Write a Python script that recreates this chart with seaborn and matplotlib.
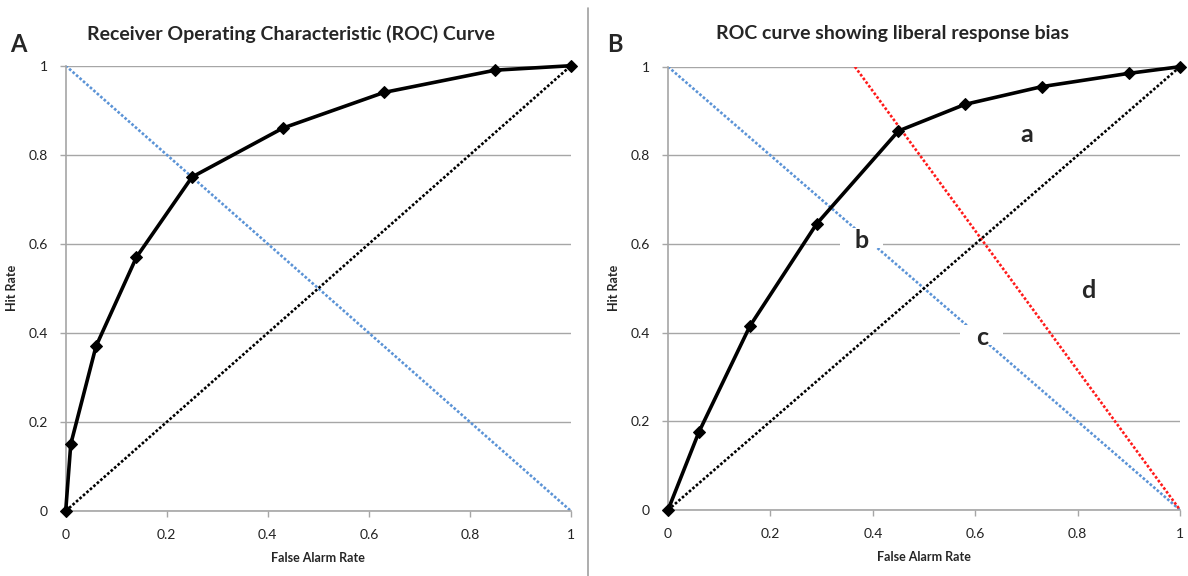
import numpy as np
import pandas as pd
import seaborn as sns
import matplotlib.pyplot as plt
from matplotlib.lines import Line2D
from matplotlib.patches import Rectangle

# datos
roc_a_far = [0, 0.01, 0.06, 0.14, 0.25, 0.43, 0.63, 0.85, 1]
roc_a_hit = [0, 0.15, 0.37, 0.57, 0.75, 0.86, 0.94, 0.99, 1]

roc_b_far = [0, 0.06, 0.16, 0.29, 0.45, 0.58, 0.73, 0.90, 1]
roc_b_hit = [0, 0.175, 0.415, 0.645, 0.855, 0.915, 0.955, 0.985, 1]

chance_x = [0, 1]
chance_y = [0, 1]
neutral_x = [0, 1]
neutral_y = [1, 0]
liberal_x = [0.365, 1]
liberal_y = [1, 0]

tick_vals = [0, 0.2, 0.4, 0.6, 0.8, 1]
tick_labels = ["0", "0.2", "0.4", "0.6", "0.8", "1"]

region_labels = ["a", "b", "c", "d"]
region_x = [0.70, 0.378, 0.613, 0.82]
region_y = [0.846, 0.609, 0.390, 0.496]
region_boxed = [False, True, True, False]

titles = ["Receiver Operating Characteristic (ROC) Curve",
          "ROC curve showing liberal response bias"]
panel_letters = ["A", "B"]

sns.set_theme(style="white")
plt.rcParams['font.family'] = ['Lato', 'DejaVu Sans']

GRID = "#A6A6A6"
BLUE = "#5B93D6"
RED = "#FF1A1A"
DOT = (0, (1, 0.75))

fig = plt.figure(figsize=(11.88, 5.76), dpi=100)
ax_a = fig.add_axes([0.0553, 0.1128, 0.4253, 0.7731])
ax_b = fig.add_axes([0.5623, 0.1146, 0.4310, 0.7696])


def style_axes(ax, ylab_x):
    ax.set_xlim(0, 1)
    ax.set_ylim(0, 1)
    ax.set_xticks(tick_vals)
    ax.set_xticklabels(tick_labels)
    ax.set_yticks(tick_vals)
    ax.set_yticklabels(tick_labels)
    ax.yaxis.grid(True, color=GRID, lw=1)
    ax.xaxis.grid(False)
    for s in ["top", "right"]:
        ax.spines[s].set_visible(False)
    for s in ["left", "bottom"]:
        ax.spines[s].set_color(GRID)
        ax.spines[s].set_linewidth(1.2)
    ax.tick_params(axis="both", which="major", direction="out", length=4,
                   width=1, color=GRID, labelsize=10, labelcolor="#222222",
                   bottom=True, left=True)
    ax.tick_params(axis="x", pad=9)
    ax.tick_params(axis="y", pad=9)
    ax.set_xlabel("False Alarm Rate", fontsize=9, fontweight="bold", labelpad=8)
    ax.set_ylabel("Hit Rate", fontsize=9, fontweight="bold")
    ax.yaxis.set_label_coords(ylab_x, 0.5)


def draw_ref(ax, xs, ys, color):
    sns.lineplot(x=xs, y=ys, ax=ax, color=color, lw=1.9, linestyle=DOT,
                 errorbar=None, sort=False, legend=False, zorder=2)


def draw_roc(ax, xs, ys):
    sns.lineplot(x=xs, y=ys, ax=ax, color="black", lw=2.6, marker="D",
                 markersize=6.5, markeredgecolor="black", errorbar=None,
                 sort=False, legend=False, zorder=4, clip_on=False)


# Panel A
draw_ref(ax_a, neutral_x, neutral_y, BLUE)
draw_ref(ax_a, chance_x, chance_y, "black")
draw_roc(ax_a, roc_a_far, roc_a_hit)
style_axes(ax_a, (18 - 66) / 505)

# Panel B
draw_ref(ax_b, neutral_x, neutral_y, BLUE)
draw_ref(ax_b, liberal_x, liberal_y, RED)
draw_ref(ax_b, chance_x, chance_y, "black")
draw_roc(ax_b, roc_b_far, roc_b_hit)
style_axes(ax_b, (620 - 668) / 512)

# fondo blanco de las etiquetas b y c: ancho ~43 px, alto ~20 px
box_w = 43 / 512
box_h = 20 / 443
for lab, x, y, boxed in zip(region_labels, region_x, region_y, region_boxed):
    if boxed:
        ax_b.add_patch(Rectangle((x - box_w / 2, y - box_h / 2 + 0.004),
                                 box_w, box_h, fc="white", ec="none",
                                 zorder=5))
    ax_b.text(x, y, lab, fontsize=18, fontweight="bold", ha="center",
              va="center", zorder=6)

# titulos y letras de panel
fig.text(291 / 1188, 1 - 34 / 576, titles[0], fontsize=14, fontweight="bold",
         ha="center", va="center")
fig.text(893 / 1188, 1 - 34 / 576, titles[1], fontsize=14, fontweight="bold",
         ha="center", va="center")
fig.text(18 / 1188, 1 - 45 / 576, panel_letters[0], fontsize=17,
         fontweight="bold", ha="center", va="center")
fig.text(615 / 1188, 1 - 45 / 576, panel_letters[1], fontsize=17,
         fontweight="bold", ha="center", va="center")

# separador vertical
fig.add_artist(Line2D([588 / 1188, 588 / 1188], [0, 1 - 8 / 576],
                      transform=fig.transFigure, color="#A0A0A0", lw=1.2))

fig.savefig("out.png", dpi=100)
